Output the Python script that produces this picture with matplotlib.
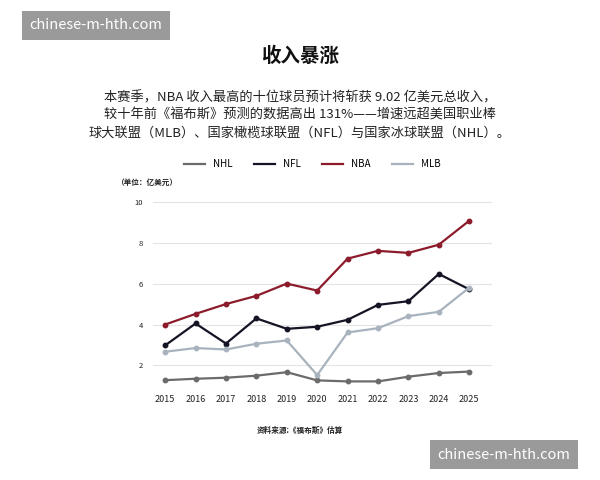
import matplotlib
matplotlib.use("Agg")
import matplotlib.pyplot as plt

plt.rcParams['font.family'] = ['Noto Sans CJK SC', 'DejaVu Sans']

years = [2015, 2016, 2017, 2018, 2019, 2020, 2021, 2022, 2023, 2024, 2025]
nhl = [1.28, 1.35, 1.4, 1.5, 1.67, 1.27, 1.22, 1.22, 1.45, 1.63, 1.7]
nfl = [2.98, 4.05, 3.07, 4.3, 3.79, 3.89, 4.23, 4.96, 5.14, 6.47, 5.72]
nba = [4.0, 4.52, 5.0, 5.4, 6.0, 5.66, 7.22, 7.6, 7.5, 7.9, 9.07]
mlb = [2.67, 2.85, 2.78, 3.06, 3.22, 1.53, 3.61, 3.82, 4.41, 4.62, 5.8]
yticks = [2, 4, 6, 8, 10]

fig = plt.figure(figsize=(6, 4.8), dpi=100)
ax = fig.add_axes([0.255, 0.1875, 0.565, 0.405])
series = [("NHL", nhl, "#6b6b6b"), ("NFL", nfl, "#141425"),
          ("NBA", nba, "#8c1c2c"), ("MLB", mlb, "#a8b3be")]
for name, vals, c in series:
    ax.plot(years, vals, color=c, lw=1.6, marker='o', ms=3.2, label=name)
ax.set_xlim(2014.6, 2025.75)
ax.set_ylim(0.8, 10.3)
ax.set_yticks(yticks)
ax.set_xticks(years)
ax.tick_params(length=0, labelsize=6.5, colors='#222')
ax.tick_params(axis='y', labelsize=5.5, pad=7)
ax.grid(axis='y', color='#e4e4e4', lw=0.8)
for s in ax.spines.values():
    s.set_visible(False)
ax.legend(loc='lower center', bbox_to_anchor=(0.47, 1.09), ncol=4, frameon=False,
          fontsize=7, handlelength=2.2, columnspacing=2.2, markerscale=0)

fig.text(0.5, 0.87, "收入暴涨", ha='center', fontsize=14, fontweight='bold', color='#111')
fig.text(0.5, 0.81, "本赛季，NBA 收入最高的十位球员预计将斩获 9.02 亿美元总收入，\n"
         "较十年前《福布斯》预测的数据高出 131%——增速远超美国职业棒\n"
         "球大联盟（MLB）、国家橄榄球联盟（NFL）与国家冰球联盟（NHL）。",
         ha='center', va='top', fontsize=9.5, color='#222', linespacing=1.45)
fig.text(0.195, 0.615, "（单位：亿美元）", fontsize=5.5, color='#222', fontweight='bold')
fig.text(0.5, 0.098, "资料来源:《福布斯》估算", ha='center', fontsize=5.5, color='#222', fontweight='bold')

fig.text(0.16, 0.947, "chinese-m-hth.com", ha='center', va='center', fontsize=10.5, color='white',
         bbox=dict(boxstyle='square,pad=0.5', fc='#9a9a9a', ec='none'))
fig.text(0.84, 0.053, "chinese-m-hth.com", ha='center', va='center', fontsize=10.5, color='white',
         bbox=dict(boxstyle='square,pad=0.5', fc='#9a9a9a', ec='none'))

fig.savefig("out.png", dpi=100, facecolor='white')
